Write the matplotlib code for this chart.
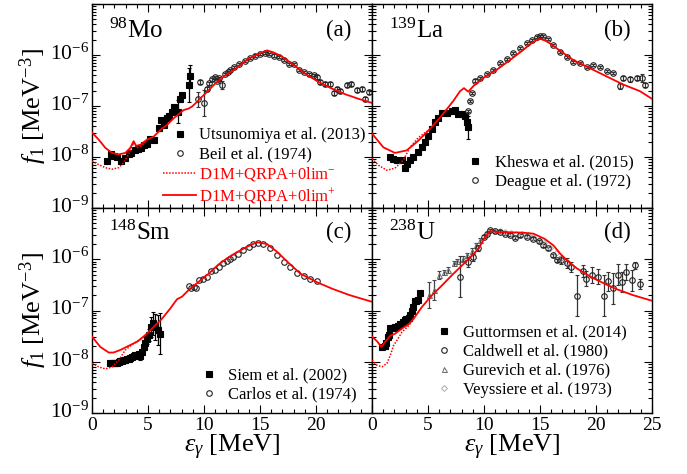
import numpy as np
import matplotlib
matplotlib.use("Agg")
import matplotlib.pyplot as plt
from matplotlib.ticker import FixedLocator, FixedFormatter, MultipleLocator, LogLocator, NullFormatter
from matplotlib.transforms import ScaledTranslation

plt.rcParams['font.family'] = ['Liberation Serif', 'DejaVu Serif']
plt.rcParams['mathtext.fontset'] = 'custom'
plt.rcParams['mathtext.rm'] = 'Liberation Serif'
plt.rcParams['mathtext.it'] = 'Liberation Serif:italic'
plt.rcParams['mathtext.bf'] = 'Liberation Serif:bold'

# ---------- data (log10 f1 in MeV^-3) ----------
# (a) 98Mo
utsu_E = [1.34, 1.70, 1.93, 2.23, 2.62, 2.98, 3.27, 3.51, 3.81, 4.11, 4.40, 4.67, 4.91, 5.21,
          5.51, 5.95, 6.19, 6.40, 6.70, 6.90, 7.14, 7.29, 7.44, 7.68, 7.83, 8.04, 8.63, 8.78]
utsu_lg = [-8.08, -7.95, -7.98, -8.00, -8.08, -8.02, -7.95, -7.92, -7.87, -7.85, -7.82, -7.76, -7.74, -7.65,
           -7.66, -7.43, -7.27, -7.37, -7.24, -7.19, -7.11, -7.01, -7.05, -7.11, -6.87, -6.79, -6.59, -6.42]
utsu_err = [0.02] * 23 + [0.22, 0.05, 0.05, 0.33, 0.22]

beil_E = [9.46, 9.67, 9.97, 10.27, 10.48, 10.70, 10.95, 11.16, 11.37, 11.60, 11.85, 12.14, 12.35, 12.65,
          13.10, 13.69, 14.14, 14.58, 15.03, 15.48, 15.77, 16.22, 16.67, 17.11, 17.56, 18.00, 18.45, 18.90,
          19.35, 19.79, 20.10, 20.40, 20.83, 21.28, 21.58, 21.88, 22.17, 22.77, 23.15, 23.66, 24.10, 24.40, 24.76]
beil_lg = [-6.87, -6.53, -6.94, -6.66, -6.55, -6.48, -6.44, -6.50, -6.46, -6.59, -6.38, -6.33, -6.30, -6.23,
           -6.17, -6.12, -6.05, -6.01, -5.98, -5.96, -5.98, -6.01, -6.04, -6.09, -6.18, -6.18, -6.30, -6.33,
           -6.37, -6.40, -6.43, -6.53, -6.57, -6.56, -6.75, -6.66, -6.71, -6.59, -6.57, -6.69, -6.66, -6.86, -6.72]
beil_err = [0.15, 0.04, 0.25, 0.04, 0.03, 0.03, 0.03, 0.03, 0.03, 0.08] + [0.02] * 20 + [0.04] * 13

mo_sol_E = [0, 0.6, 1.19, 1.79, 2.38, 2.98, 3.42, 3.72, 3.93, 4.32, 4.91, 5.51, 6.1, 6.7, 7.29, 7.74, 8.18,
            8.63, 8.93, 9.23, 9.82, 10.42, 11.0, 11.9, 12.8, 13.4, 13.99, 14.88, 15.62, 16.22, 16.96, 17.86,
            19.05, 20.24, 21.43, 22.62, 23.81, 25.0]
mo_sol_lg = [-7.52, -7.66, -7.82, -7.92, -7.95, -7.92, -7.82, -7.69, -7.78, -7.76, -7.66, -7.60, -7.47, -7.37,
             -7.24, -7.16, -7.08, -7.05, -7.01, -6.95, -6.82, -6.69, -6.56, -6.40, -6.27, -6.17, -6.07, -5.98,
             -5.91, -5.95, -6.03, -6.17, -6.37, -6.53, -6.66, -6.77, -6.86, -6.94]
mo_dot_E = [0, 0.6, 1.19, 1.79, 2.38, 2.83, 3.27, 3.72, 4.02, 4.46, 4.91]
mo_dot_lg = [-8.08, -8.15, -8.21, -8.24, -8.21, -8.11, -7.95, -7.72, -7.82, -7.78, -7.66]

# (b) 139La
khes_E = [1.61, 1.90, 2.20, 2.65, 2.95, 3.10, 3.39, 3.69, 4.14, 4.43, 4.73, 5.03, 5.33, 5.63, 5.92,
          6.22, 6.67, 7.11, 7.41, 7.71, 8.00, 8.30, 8.45, 8.60]
khes_lg = [-8.00, -8.03, -8.05, -8.06, -8.22, -8.13, -8.06, -8.00, -7.90, -7.81, -7.71, -7.58, -7.45, -7.32,
           -7.23, -7.14, -7.13, -7.10, -7.07, -7.15, -7.16, -7.19, -7.32, -7.42]
khes_err = [0.02] * 22 + [0.05, 0.22]

deag_E = [8.60, 8.75, 8.90, 9.20, 9.64, 10.24, 10.83, 11.43, 12.02, 12.62, 13.21, 13.81, 14.26, 14.70,
          15.00, 15.30, 15.74, 16.19, 16.79, 17.38, 17.98, 18.57, 19.17, 19.76, 20.36, 20.95, 21.55, 22.14,
          22.44, 23.04, 23.63, 24.08, 24.38]
deag_lg = [-7.10, -6.90, -6.74, -6.50, -6.45, -6.37, -6.29, -6.16, -6.07, -5.97, -5.87, -5.77, -5.71, -5.65,
           -5.63, -5.63, -5.69, -5.81, -5.94, -6.03, -6.13, -6.16, -6.23, -6.19, -6.23, -6.32, -6.36, -6.61,
           -6.45, -6.48, -6.45, -6.45, -6.58]
deag_err = [0.02] * 27 + [0.06, 0.04, 0.04, 0.04, 0.08, 0.04]

la_sol_E = [0, 1.01, 2.05, 3.1, 4.14, 5.18, 6.22, 7.26, 7.86, 8.21, 8.6, 9.05, 9.94, 11.13, 12.32, 13.5,
            14.4, 15.0, 15.6, 16.5, 17.98, 19.46, 20.95, 22.44, 23.93, 25.0]
la_sol_lg = [-7.54, -7.81, -7.92, -7.87, -7.68, -7.45, -7.19, -6.90, -6.71, -6.65, -6.72, -6.61, -6.45, -6.29,
             -6.10, -5.90, -5.74, -5.68, -5.73, -5.87, -6.10, -6.26, -6.42, -6.58, -6.71, -6.86]
la_dot_E = [0, 0.57, 1.31, 2.05, 2.8, 3.39, 4.14, 4.88, 5.18]
la_dot_lg = [-8.03, -8.16, -8.26, -8.22, -8.06, -7.81, -7.62, -7.50, -7.45]

# (c) 148Sm
siem_E = [1.64, 1.79, 1.93, 2.08, 2.23, 2.38, 2.53, 2.68, 2.83, 2.98, 3.13, 3.27, 3.42, 3.57, 3.72,
          3.87, 4.02, 4.17, 4.32, 4.46, 4.61, 4.76, 4.91, 5.12, 5.30, 5.45, 5.65, 5.89, 6.04]
siem_lg = [-8.03, -8.02, -8.03, -8.02, -8.03, -8.00, -7.99, -7.98, -7.97, -7.96, -7.95, -7.94, -7.92, -7.90,
           -7.88, -7.87, -7.86, -7.84, -7.88, -7.81, -7.71, -7.64, -7.55, -7.48, -7.32, -7.25, -7.32, -7.38, -7.45]
siem_err = [0.03] * 18 + [0.08, 0.05, 0.05, 0.06, 0.10, 0.12, 0.20, 0.22, 0.25, 0.30, 0.40]

carl_E = [8.63, 8.87, 9.08, 9.29, 9.58, 9.88, 10.27, 10.65, 11.01, 11.31, 11.67, 12.05, 12.35, 12.60,
          13.00, 13.50, 14.00, 14.40, 14.80, 15.30, 15.90, 16.50, 17.10, 17.70, 18.30, 18.90, 19.50, 20.10]
carl_lg = [-6.52, -6.57, -6.54, -6.57, -6.41, -6.38, -6.34, -6.23, -6.20, -6.15, -6.08, -6.03, -5.99, -5.95,
           -5.89, -5.82, -5.76, -5.71, -5.68, -5.71, -5.79, -5.92, -6.05, -6.15, -6.26, -6.32, -6.38, -6.43]

sm_sol_E = [0, 0.74, 1.49, 1.93, 2.53, 3.27, 4.02, 4.76, 5.51, 6.25, 6.99, 7.59, 8.04, 8.63, 9.52, 10.42,
            11.31, 12.2, 12.8, 13.8, 14.7, 15.6, 16.5, 17.4, 18.6, 20.1, 21.5, 23.0, 25.0]
sm_sol_lg = [-7.51, -7.71, -7.82, -7.82, -7.77, -7.69, -7.61, -7.48, -7.32, -7.16, -6.96, -6.78, -6.73, -6.60,
             -6.44, -6.28, -6.10, -5.96, -5.88, -5.76, -5.67, -5.70, -5.85, -6.04, -6.28, -6.45, -6.58, -6.70, -6.83]
sm_dot_E = [0, 0.6, 1.19, 1.79, 2.38, 2.98, 3.72, 4.46, 4.76]
sm_dot_lg = [-8.03, -8.10, -8.14, -8.10, -7.97, -7.77, -7.64, -7.55, -7.48]

# (d) 238U
gutt_E = [0.89, 1.13, 1.25, 1.43, 1.55, 1.64, 1.85, 2.08, 2.32, 2.53, 2.74, 2.92, 3.07, 3.27, 3.42, 3.57,
          3.66, 3.81, 3.93, 4.11, 4.32]
gutt_lg = [-7.71, -7.69, -7.64, -7.51, -7.48, -7.34, -7.34, -7.32, -7.30, -7.27, -7.22, -7.19, -7.16, -7.14,
           -7.09, -7.01, -6.93, -6.82, -6.82, -6.80, -6.65]

cald_E = [7.89, 8.60, 9.00, 9.50, 9.97, 10.27, 10.57, 11.00, 11.46, 11.90, 12.35, 12.80, 13.24, 13.80,
          14.40, 14.90, 15.30, 15.70, 16.20, 16.50, 16.90, 17.40, 17.80, 18.30, 18.80, 19.10, 19.60, 20.20,
          20.70, 21.10, 21.50, 22.00, 22.30, 22.70, 23.20, 23.50, 23.90]
cald_lg = [-6.34, -6.05, -5.95, -5.78, -5.56, -5.50, -5.43, -5.45, -5.46, -5.50, -5.52, -5.58, -5.53, -5.56,
           -5.60, -5.65, -5.73, -5.79, -5.92, -6.02, -6.02, -6.08, -6.15, -6.71, -6.23, -6.38, -6.31, -6.34,
           -6.71, -6.43, -6.57, -6.30, -6.44, -6.25, -6.41, -6.12, -6.49]
cald_err = [0.40, 0.10, 0.08, 0.05] + [0.03] * 16 + [0.08, 0.10, 0.10, 0.40, 0.12, 0.15, 0.15, 0.15,
                                                    0.40, 0.18, 0.30, 0.20, 0.20, 0.15, 0.20, 0.07, 0.10]

gure_E = [5.12, 5.50, 5.95, 6.40, 6.79, 7.29, 7.59, 8.10, 8.48, 8.93, 9.29, 9.67]
gure_lg = [-6.70, -6.60, -6.31, -6.25, -6.21, -6.08, -6.04, -5.99, -5.92, -5.84, -5.73, -5.63]
gure_err = [0.25, 0.20, 0.08, 0.05, 0.05, 0.05, 0.05, 0.05, 0.05, 0.05, 0.05, 0.05]

veys_E = [10.4, 10.9, 11.4, 11.9, 12.4, 12.9, 13.4, 13.9, 14.4, 14.9, 15.4, 15.9, 16.4, 16.9, 17.4]
veys_lg = [-5.47, -5.45, -5.45, -5.47, -5.48, -5.50, -5.50, -5.53, -5.57, -5.62, -5.68, -5.78, -5.88, -5.97, -6.05]

u_sol_E = [0, 0.45, 0.83, 1.19, 1.64, 2.08, 2.68, 3.27, 3.72, 4.46, 5.36, 6.25, 7.14, 8.04, 8.93, 9.52,
           10.12, 10.57, 11.3, 13.4, 14.4, 15.4, 16.2, 16.8, 17.4, 18.3, 19.5, 20.7, 21.8, 23.3, 25.0]
u_sol_lg = [-7.51, -7.60, -7.71, -7.61, -7.49, -7.45, -7.35, -7.27, -7.16, -6.93, -6.70, -6.51, -6.31, -6.12,
            -5.93, -5.79, -5.56, -5.45, -5.47, -5.48, -5.50, -5.60, -5.73, -5.89, -6.02, -6.18, -6.34, -6.47,
            -6.58, -6.70, -6.81]
u_dot_E = [0, 0.45, 0.89, 1.34, 1.64, 1.93, 2.23, 2.68, 3.27, 3.72]
u_dot_lg = [-7.97, -8.07, -8.10, -8.03, -7.87, -7.68, -7.58, -7.42, -7.30, -7.16]

xt_left = ['0', '5', '10', '15', '20', '']
xt_right = ['0', '5', '10', '15', '20', '25']
ylab_pos = [1e-9, 1e-8, 1e-7, 1e-6, 1e-5]
ylab_txt = ['10$^{-9}$', '10$^{-8}$', '10$^{-7}$', '10$^{-6}$', '']

# ---------- figure ----------
RED = '#ff0000'
fig = plt.figure(figsize=(6.87, 4.74), dpi=100)
L, R, W = 92 / 687, 372 / 687, 280 / 687
Bt, Ht = 1 - 208 / 474, 204 / 474
Bb, Hb = 1 - 413 / 474, 205 / 474
ax_a = fig.add_axes([L, Bt, W, Ht])
ax_b = fig.add_axes([R, Bt, W, Ht])
ax_c = fig.add_axes([L, Bb, W, Hb])
ax_d = fig.add_axes([R, Bb, W, Hb])


def pts(ax, E, lg, err, marker, ms, mfc, mec, ecol, label, mew=0.8):
    E = np.array(E); lg = np.array(lg)
    f = 10 ** lg
    if err is not None:
        err = np.array(err)
        lo = f - 10 ** (lg - err)
        hi = 10 ** (lg + err) - f
        ax.errorbar(E, f, yerr=[lo, hi], fmt='none', ecolor=ecol, elinewidth=0.9, capsize=1.5,
                    capthick=0.8, zorder=3)
    h, = ax.plot(E, f, linestyle='none', marker=marker, ms=ms, mfc=mfc, mec=mec, mew=mew,
                 label=label, zorder=4)
    return h


def curves(ax, sE, slg, dE, dlg):
    hd, = ax.plot(dE, 10 ** np.array(dlg), color=RED, lw=1.1, ls=(0, (1, 1)), zorder=5,
                  label='D1M+QRPA+0lim$^{-}$')
    hs, = ax.plot(sE, 10 ** np.array(slg), color=RED, lw=1.3, zorder=5,
                  label='D1M+QRPA+0lim$^{+}$')
    return hd, hs


def style(ax, xt, ylab):
    ax.set_yscale('log')
    ax.set_xlim(0, 25)
    ax.set_ylim(1e-9, 1e-5)
    ax.xaxis.set_major_locator(FixedLocator([0, 5, 10, 15, 20, 25]))
    ax.xaxis.set_minor_locator(MultipleLocator(1))
    ax.yaxis.set_major_locator(FixedLocator(ylab_pos))
    ax.yaxis.set_major_formatter(FixedFormatter(ylab_txt))
    ax.yaxis.set_minor_locator(LogLocator(base=10, subs=np.arange(2, 10)))
    ax.yaxis.set_minor_formatter(NullFormatter())
    ax.tick_params(which='both', direction='in', top=True, right=True, width=0.8)
    ax.tick_params(which='major', length=6, pad=3)
    ax.tick_params(which='minor', length=3)
    ax.tick_params(axis='x', labelsize=14)
    ax.tick_params(axis='y', labelsize=15.5, pad=2)
    for s in ax.spines.values():
        s.set_linewidth(1.0)
    if xt is None:
        ax.tick_params(labelbottom=False)
    else:
        ax.xaxis.set_major_formatter(FixedFormatter(xt))
        ax.set_xlabel(r'$\varepsilon_\gamma$ [MeV]', fontsize=19, labelpad=-1)
    if not ylab:
        ax.tick_params(labelleft=False)
    else:
        ax.set_ylabel('$f_1$ [MeV$^{-3}$]', fontsize=19, labelpad=1)
        off = ScaledTranslation(0, 2.5 / 72, fig.dpi_scale_trans)
        for t in ax.yaxis.get_major_ticks():
            t.label1.set_transform(t.label1.get_transform() + off)


def tags(ax, nuc, letter, ynuc):
    ax.text(0.062, ynuc, nuc, transform=ax.transAxes, fontsize=18, va='baseline', ha='left')
    ax.text(0.925, ynuc + 0.01, letter, transform=ax.transAxes, fontsize=16.5, va='baseline', ha='right')


def legend(ax, handles, x, y):
    lg = ax.legend(handles=handles, loc='upper left', bbox_to_anchor=(x, y), frameon=False,
                   fontsize=12, handlelength=2.0, handletextpad=0.15, labelspacing=0.18,
                   borderpad=0, borderaxespad=0, numpoints=1)
    return lg


# (a)
h1 = pts(ax_a, utsu_E, utsu_lg, utsu_err, 's', 4.6, 'black', 'black', 'black', 'Utsunomiya et al. (2013)')
h2 = pts(ax_a, beil_E, beil_lg, beil_err, 'o', 4.0, 'none', '#222222', '#333333', 'Beil et al. (1974)')
hd, hs = curves(ax_a, mo_sol_E, mo_sol_lg, mo_dot_E, mo_dot_lg)
style(ax_a, None, True)
tags(ax_a, '$^{98}$Mo', '(a)', 0.835)
lga = legend(ax_a, [h1, h2, hd, hs], 0.254, 0.395)
for t in lga.get_texts()[2:]:
    t.set_color(RED)

# (b)
h1 = pts(ax_b, khes_E, khes_lg, khes_err, 's', 4.6, 'black', 'black', 'black', 'Kheswa et al. (2015)')
h2 = pts(ax_b, deag_E, deag_lg, deag_err, 'o', 4.0, 'none', '#222222', '#333333', 'Deague et al. (1972)')
curves(ax_b, la_sol_E, la_sol_lg, la_dot_E, la_dot_lg)
style(ax_b, None, False)
tags(ax_b, '$^{139}$La', '(b)', 0.835)
legend(ax_b, [h1, h2], 0.31, 0.262)

# (c)
h1 = pts(ax_c, siem_E, siem_lg, siem_err, 's', 4.6, 'black', 'black', 'black', 'Siem et al. (2002)')
h2 = pts(ax_c, carl_E, carl_lg, None, 'o', 4.0, 'none', '#222222', '#333333', 'Carlos et al. (1974)')
curves(ax_c, sm_sol_E, sm_sol_lg, sm_dot_E, sm_dot_lg)
style(ax_c, xt_left, True)
tags(ax_c, '$^{148}$Sm', '(c)', 0.845)
legend(ax_c, [h1, h2], 0.357, 0.222)

# (d)
h4 = pts(ax_d, veys_E, veys_lg, None, 'D', 3.0, 'none', '#aaaaaa', '#aaaaaa', 'Veyssiere et al. (1973)', mew=0.7)
h3 = pts(ax_d, gure_E, gure_lg, gure_err, '^', 3.6, 'none', '#666666', '#444444', 'Gurevich et al. (1976)', mew=0.7)
h2 = pts(ax_d, cald_E, cald_lg, cald_err, 'o', 4.0, 'none', '#222222', '#333333', 'Caldwell et al. (1980)')
h1 = pts(ax_d, gutt_E, gutt_lg, None, 's', 4.6, 'black', 'black', 'black', 'Guttormsen et al. (2014)')
curves(ax_d, u_sol_E, u_sol_lg, u_dot_E, u_dot_lg)
style(ax_d, xt_right, False)
tags(ax_d, '$^{238}$U', '(d)', 0.845)
legend(ax_d, [h1, h2, h3, h4], 0.196, 0.43)

fig.savefig('out.png', dpi=100)
